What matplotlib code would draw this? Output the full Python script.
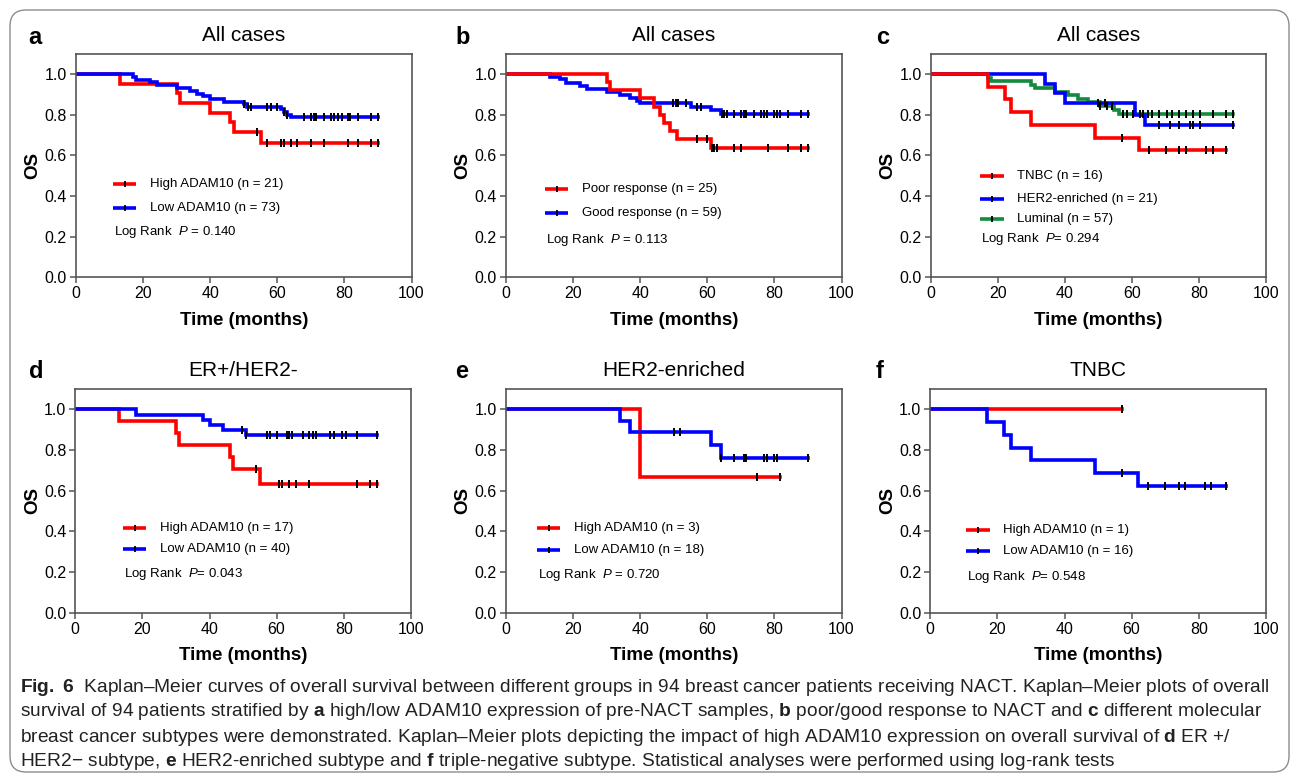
import numpy as np
import matplotlib
matplotlib.use("Agg")
import matplotlib.pyplot as plt
from matplotlib.patches import FancyBboxPatch
from matplotlib.transforms import IdentityTransform

plt.rcParams['font.family'] = ['Liberation Sans', 'DejaVu Sans']
plt.rcParams['mathtext.fontset'] = 'custom'
plt.rcParams['mathtext.rm'] = 'Liberation Sans'
plt.rcParams['mathtext.it'] = 'Liberation Sans:italic'
plt.rcParams['mathtext.bf'] = 'Liberation Sans:bold'

# ---- survival data (step times, survival, censor times) ----
# a: all cases, ADAM10
a_high_t = [0, 13, 30, 31, 40, 46, 47, 55]
a_high_s = [1.0, 0.952, 0.905, 0.857, 0.810, 0.762, 0.714, 0.663]
a_high_c = [54, 57, 61, 62, 64, 66, 70, 74, 81, 84, 88, 90]
a_low_t = [0, 17, 18, 22, 24, 30, 34, 36, 38, 40, 44, 50, 51, 61, 62, 63, 64]
a_low_s = [1.0, 0.986, 0.973, 0.959, 0.945, 0.932, 0.918, 0.904, 0.890, 0.877,
           0.863, 0.852, 0.839, 0.826, 0.813, 0.800, 0.787]
a_low_c = [50, 51.4, 52.2, 57, 58, 60, 62, 63, 68, 70, 71, 71.6, 74, 76, 77, 78,
           79.4, 81, 81.6, 84, 88, 90]

# b: all cases, response to NACT
b_poor_t = [0, 30, 31, 40, 44, 46, 47, 49, 51, 61]
b_poor_s = [1.0, 0.96, 0.92, 0.88, 0.84, 0.80, 0.76, 0.72, 0.68, 0.635]
b_poor_c = [57, 60, 61.3, 62.1, 62.9, 68, 70, 78, 84, 88, 90]
b_good_t = [0, 13, 16, 18, 22, 24, 30, 34, 37, 39, 40, 55, 61, 64]
b_good_s = [1.0, 0.987, 0.974, 0.954, 0.941, 0.925, 0.913, 0.898, 0.880, 0.869,
            0.856, 0.839, 0.823, 0.801]
b_good_c = [49.8, 50.6, 51.4, 53.8, 56.8, 58, 64.3, 65.1, 65.9, 68.1, 69.9, 70.8,
            71.6, 74, 76, 77, 77.8, 80, 80.8, 81.6, 84, 88, 90]

# c: all cases, subtypes
c_tnbc_t = [0, 17, 22, 24, 30, 49, 62]
c_tnbc_s = [1.0, 0.9375, 0.875, 0.8125, 0.75, 0.6875, 0.625]
c_tnbc_c = [57, 65, 70, 74, 76, 82, 84, 88]
c_her2_t = [0, 34, 37, 40, 61, 64]
c_her2_s = [1.0, 0.952, 0.905, 0.857, 0.80, 0.75]
c_her2_c = [50, 52, 68, 71.4, 74, 77.3, 78.3, 80.3, 90]
c_lum_t = [0, 17, 18, 30, 31, 37, 41, 44, 47, 50.5, 54.5, 56]
c_lum_s = [1.0, 0.982, 0.965, 0.947, 0.930, 0.912, 0.895, 0.877, 0.863, 0.845,
           0.825, 0.805]
c_lum_c = [50.5, 52.5, 54, 57.4, 58.4, 60.4, 62.4, 63.4, 64.9, 65.9, 67.9, 70.4,
           71.9, 74.1, 76.1, 78.3, 80.2, 84.1, 88.1, 90]

# d: ER+/HER2-
d_high_t = [0, 13, 30, 31, 46, 47, 55]
d_high_s = [1.0, 0.941, 0.882, 0.824, 0.765, 0.706, 0.635]
d_high_c = [54, 60.7, 61.5, 63.7, 65.9, 69.8, 83.9, 87.9, 90]
d_low_t = [0, 18, 38, 40, 44, 51]
d_low_s = [1.0, 0.975, 0.95, 0.925, 0.90, 0.874]
d_low_c = [49.8, 51, 57, 58, 60, 63, 63.7, 64.5, 68, 69.8, 70.8, 71.6, 75.8, 77,
           79.4, 80.8, 84, 90]

# e: HER2-enriched
e_high_t = [0, 40]
e_high_s = [1.0, 0.667]
e_high_c = [74.7, 81.6]
e_low_t = [0, 34, 37, 61, 64]
e_low_s = [1.0, 0.944, 0.889, 0.825, 0.762]
e_low_c = [50, 52, 64, 68, 71, 71.6, 77, 77.8, 80, 80.8, 90]

# f: TNBC
f_high_t = [0]
f_high_s = [1.0]
f_high_c = [57]
f_low_t = [0, 17, 22, 24, 30, 49, 62]
f_low_s = [1.0, 0.9375, 0.875, 0.8125, 0.75, 0.6875, 0.625]
f_low_c = [57, 65, 70, 74, 75.8, 82, 83.8, 88]

titles = ['All cases', 'All cases', 'All cases', 'ER+/HER2-', 'HER2-enriched', 'TNBC']
letters = ['a', 'b', 'c', 'd', 'e', 'f']
pvals = ['Log Rank  $P$ = 0.140', 'Log Rank  $P$ = 0.113', 'Log Rank  $P$= 0.294',
         'Log Rank  $P$= 0.043', 'Log Rank  $P$ = 0.720', 'Log Rank  $P$= 0.548']

RED, BLUE, GREEN = '#ff0000', '#0000ff', '#138a3e'

# (curves in drawing order, legend entries in display order)
panels = [
    [[(a_high_t, a_high_s, a_high_c, RED), (a_low_t, a_low_s, a_low_c, BLUE)],
     [('High ADAM10 (n = 21)', RED), ('Low ADAM10 (n = 73)', BLUE)]],
    [[(b_good_t, b_good_s, b_good_c, BLUE), (b_poor_t, b_poor_s, b_poor_c, RED)],
     [('Poor response (n = 25)', RED), ('Good response (n = 59)', BLUE)]],
    [[(c_lum_t, c_lum_s, c_lum_c, GREEN), (c_her2_t, c_her2_s, c_her2_c, BLUE),
      (c_tnbc_t, c_tnbc_s, c_tnbc_c, RED)],
     [('TNBC (n = 16)', RED), ('HER2-enriched (n = 21)', BLUE), ('Luminal (n = 57)', GREEN)]],
    [[(d_high_t, d_high_s, d_high_c, RED), (d_low_t, d_low_s, d_low_c, BLUE)],
     [('High ADAM10 (n = 17)', RED), ('Low ADAM10 (n = 40)', BLUE)]],
    [[(e_high_t, e_high_s, e_high_c, RED), (e_low_t, e_low_s, e_low_c, BLUE)],
     [('High ADAM10 (n = 3)', RED), ('Low ADAM10 (n = 18)', BLUE)]],
    [[(f_high_t, f_high_s, f_high_c, RED), (f_low_t, f_low_s, f_low_c, BLUE)],
     [('High ADAM10 (n = 1)', RED), ('Low ADAM10 (n = 16)', BLUE)]],
]

# legend placement in data units: x start, row y's, log-rank y
legend_pos = [(11.0, [0.458, 0.34], 0.222),
              (11.6, [0.433, 0.315], 0.182),
              (14.7, [0.498, 0.384, 0.286], 0.187),
              (14.2, [0.418, 0.313], 0.19),
              (9.2, [0.417, 0.308], 0.185),
              (10.7, [0.407, 0.303], 0.175)]

# axes boxes in pixels: left x, y of value 0 (from top)
W, H = 1295, 782
axes_px = [(76, 277.3), (506, 277.3), (930.7, 277.3),
           (75.3, 612.7), (506, 612.7), (930.3, 612.7)]
AX_W, AX_H = 335.5, 223.6
letter_px = [(35, 38), (463, 38), (883, 38), (36, 371), (462, 372), (880, 372)]

fig = plt.figure(figsize=(W / 100, H / 100), dpi=100)

# outer rounded frame
frame = FancyBboxPatch((10, 10), 1279, 762, boxstyle='round,pad=0,rounding_size=16',
                       transform=IdentityTransform(), fill=False, edgecolor='#8c8c8c',
                       linewidth=1.0)
fig.patches.append(frame)


def level_at(t, s, x):
    return s[np.searchsorted(t, x, side='right') - 1]


for i, (curves, entries) in enumerate(panels):
    lx, y0 = axes_px[i]
    ax = fig.add_axes([lx / W, (H - y0) / H, AX_W / W, AX_H / H])

    for t, s, c, col in curves:
        end = max(max(c), t[-1])
        ax.step(list(t) + [end], list(s) + [s[-1]], where='post', color=col,
                lw=2.6, solid_joinstyle='miter', zorder=2)
        cy = [level_at(t, s, x) for x in c]
        ax.plot(c, cy, ls='none', marker='|', ms=6, mew=1.4, color='black', zorder=3)

    ax.set_xlim(0, 100)
    ax.set_ylim(0, 1.1)
    ax.set_xticks(np.arange(0, 101, 20))
    ax.set_yticks(np.arange(0, 1.01, 0.2))
    ax.set_yticklabels(['%.1f' % v for v in np.arange(0, 1.01, 0.2)])
    ax.tick_params(direction='out', length=4, width=1.1, labelsize=11.5,
                   color='#555555', pad=2.5)
    for sp in ax.spines.values():
        sp.set_color('#555555')
        sp.set_linewidth(1.2)

    ax.text(0.5, 1 + 18.5 / AX_H, titles[i], transform=ax.transAxes, ha='center',
            va='center', fontsize=15)
    ax.text(0.5, -43 / AX_H, 'Time (months)', transform=ax.transAxes, ha='center',
            va='center', fontsize=13.5, fontweight='bold')
    ax.text(-43 / AX_W, 0.5, 'OS', transform=ax.transAxes, ha='center', va='center',
            rotation=90, fontsize=13.5, fontweight='bold')

    # legend drawn by hand
    x0, rows, lr_y = legend_pos[i]
    for (label, col), yy in zip(entries, rows):
        ax.plot([x0, x0 + 7], [yy, yy], color=col, lw=2.6, solid_capstyle='butt')
        ax.plot([x0 + 3.5], [yy], ls='none', marker='|', ms=5, mew=1.3, color='black')
        ax.text(x0 + 11, yy, label, ha='left', va='center', fontsize=9.5)
    ax.text(x0 + 0.3, lr_y, pvals[i], ha='left', va='center', fontsize=9.5)

    fig.text(letter_px[i][0] / W, 1 - letter_px[i][1] / H, letters[i], ha='center',
             va='center', fontsize=17, fontweight='bold')

# caption
caption = [
    r'$\bf{Fig.\ 6}$  Kaplan–Meier curves of overall survival between different groups in 94 breast cancer patients receiving NACT. Kaplan–Meier plots of overall',
    r'survival of 94 patients stratified by $\bf{a}$ high/low ADAM10 expression of pre-NACT samples, $\bf{b}$ poor/good response to NACT and $\bf{c}$ different molecular',
    r'breast cancer subtypes were demonstrated. Kaplan–Meier plots depicting the impact of high ADAM10 expression on overall survival of $\bf{d}$ ER +/',
    r'HER2− subtype, $\bf{e}$ HER2-enriched subtype and $\bf{f}$ triple-negative subtype. Statistical analyses were performed using log-rank tests',
]
cap_y = [688, 712, 737, 761]
for line, yy in zip(caption, cap_y):
    fig.text(20 / W, 1 - yy / H, line, ha='left', va='center', fontsize=13.8,
             color='#222222')

fig.savefig('out.png', dpi=100)
